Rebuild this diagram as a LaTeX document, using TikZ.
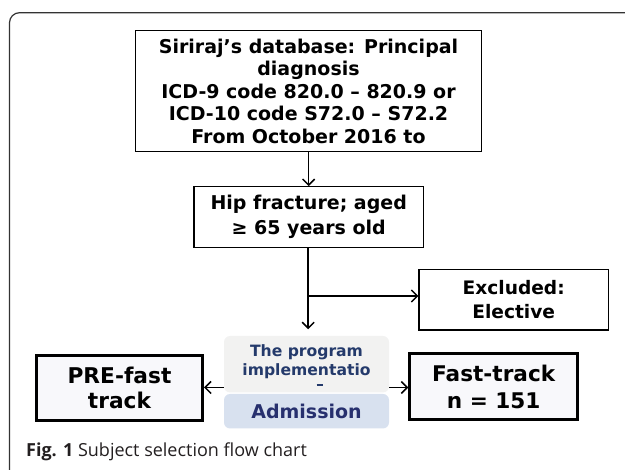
\documentclass[tikz,border=0pt]{standalone}
\usepackage{fontspec}
\usetikzlibrary{arrows.meta}
\newfontfamily\boxfont{DejaVu Sans}[BoldFont={DejaVu Sans Bold}]
\newfontfamily\capfont{Open Sans}
\definecolor{framegray}{HTML}{333333}
\definecolor{progtop}{HTML}{F2F2F1}
\definecolor{progbot}{HTML}{D8E1EF}
\definecolor{progtext}{HTML}{243A6B}
\definecolor{admtext}{HTML}{27306E}
\definecolor{trackfill}{HTML}{F8F8FB}
\definecolor{captext}{HTML}{231F20}
\tikzset{
  box/.style={draw=black, line width=1.2pt, fill=white, inner sep=0pt, align=center},
  thickbox/.style={box, line width=3pt, fill=trackfill},
  flow/.style={line width=1.5pt, -{Straight Barb[length=6pt,width=12pt,line width=1.5pt]}},
  progpart/.style={rounded corners=6pt, draw=none}
}
\begin{document}
\begin{tikzpicture}[x=1pt,y=-1pt]
\useasboundingbox (0,0) rectangle (625,470);
% outer frame, open on the right and at the bottom
\draw[framegray, line width=1.2pt, rounded corners=10pt] (9.5,470) -- (9.5,12.7) -- (625,12.7);

% flow boxes
\node[box, minimum width=346.7pt, minimum height=120.7pt,
  font={\boxfont\bfseries\fontsize{19}{22.5}\selectfont}] (db) at (308.5,91)
  {Siriraj’s database: Principal\\diagnosis\\ICD-9 code 820.0 – 820.9 or\\ICD-10 code S72.0 – S72.2\\From October 2016 to};
\node[box, minimum width=229.3pt, minimum height=61pt,
  font={\boxfont\bfseries\fontsize{19}{25}\selectfont}] (hip) at (308.7,217.2)
  {Hip fracture; aged\\≥ 65 years old};
\node[box, minimum width=189.3pt, minimum height=60.7pt,
  font={\boxfont\bfseries\fontsize{18.6}{23.3}\selectfont}] (excl) at (513.7,299.7)
  {Excluded:\\Elective};
\node[thickbox, minimum width=166pt, minimum height=64.4pt,
  font={\boxfont\bfseries\fontsize{21.7}{25.7}\selectfont}] (pre) at (119.5,388)
  {PRE-fast\\track};
\node[thickbox, minimum width=167.7pt, minimum height=65.4pt,
  font={\boxfont\bfseries\fontsize{21.6}{27}\selectfont}] (fast) at (493.7,386.5)
  {Fast-track\\n = 151};

% program block: two stacked rounded panels
\fill[progtop, progpart] (224,336) rectangle (389,392.5);
\fill[progbot, progpart] (224,394) rectangle (389,428.5);
\node[inner sep=0pt, minimum width=165pt, minimum height=56.5pt] (prog) at (306.5,364.2) {};
\node[inner sep=0pt, align=center, text=progtext,
  font={\boxfont\bfseries\fontsize{15.6}{18.4}\selectfont}] (progtxt) at (306.5,361.5)
  {The program\\implementatio};
\draw[progtext, line width=1.4pt] (316.7,385) -- (323.3,385);
\node[inner sep=0pt, text=admtext,
  font={\boxfont\bfseries\fontsize{19}{22}\selectfont}] (adm) at (306.5,411) {Admission};

% connectors
\coordinate (split) at (308.2,296);
\coordinate (progin) at (306.7,329.3);
\draw[flow] (db.south -| hip.north) -- (hip.north);
\draw[line width=1.5pt] (hip.south -| split) -- (split);
\draw[flow] (split) -- (excl.west |- split);
\draw[flow] (split) -- (split |- progin);
\draw[flow] (prog.west |- 0,387.5) -- (pre.east |- 0,387.5);
\draw[flow] (prog.east |- 0,387.5) -- (fast.west |- 0,387.5);

% caption
\node[anchor=base west, inner sep=0pt, text=captext,
  font={\capfont\fontsize{18}{22}\selectfont}] (cap) at (26,457)
  {\textbf{Fig. 1} Subject selection flow chart};
\end{tikzpicture}
\end{document}
